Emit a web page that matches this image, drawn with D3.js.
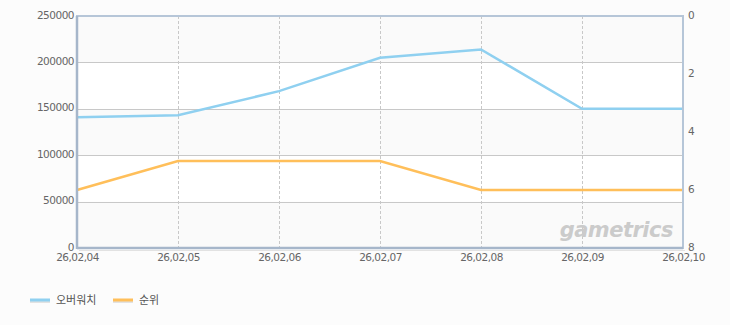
<!DOCTYPE html>
<html>
<head>
<meta charset="utf-8">
<script src="https://cdn.jsdelivr.net/npm/d3@7"></script>
<style>
    body { margin: 0; background: #fcfcfc; }
    svg { display: block; font-family: "DejaVu Sans", "Noto Sans CJK KR", sans-serif; }
    .tick text { fill: #666; font-size: 10.5px; }
</style>
</head>
<body>
<svg id="chart" width="730" height="325"></svg>
<script>
// 데이터
let dates = ['26,02,04', '26,02,05', '26,02,06', '26,02,07', '26,02,08', '26,02,09', '26,02,10'];
let viewers = [141000, 143000, 169000, 205000, 214000, 150000, 150000];
let ranks = [6, 5, 5, 5, 6, 6, 6];
let leftTicks = [0, 50000, 100000, 150000, 200000, 250000];
let rightTicks = [0, 2, 4, 6, 8];
let seriesNames = ['오버워치', '순위'];
let seriesColors = ['#8fd0f0', '#ffbf5a'];

let svg = d3.select('#chart');
let margin = {left: 77, top: 16, right: 47, bottom: 77},
    width = 730 - margin.left - margin.right,
    height = 325 - margin.top - margin.bottom;

let x = d3.scalePoint().domain(dates).range([0, width]);
let yL = d3.scaleLinear().domain([0, 250000]).range([height, 0]);
let yR = d3.scaleLinear().domain([0, 8]).range([0, height]);

let g = svg.append('g').attr('transform', 'translate(' + margin.left + ',' + margin.top + ')');

// 배경 줄무늬
for (let i = 0; i < leftTicks.length - 1; i++) {
    g.append('rect')
        .attr('x', 0)
        .attr('y', yL(leftTicks[i + 1]))
        .attr('width', width)
        .attr('height', yL(leftTicks[i]) - yL(leftTicks[i + 1]))
        .attr('fill', i % 2 === 0 ? '#fafafa' : '#ffffff');
}

// 가로 그리드
g.selectAll('.hgrid')
    .data(leftTicks.slice(1, -1))
    .enter()
    .append('line')
    .attr('x1', 0).attr('x2', width)
    .attr('y1', d => Math.round(yL(d)) + 0.5)
    .attr('y2', d => Math.round(yL(d)) + 0.5)
    .attr('stroke', '#c8c8c8');

// 세로 그리드 (점선)
g.selectAll('.vgrid')
    .data(dates.slice(1, -1))
    .enter()
    .append('line')
    .attr('x1', d => Math.round(x(d)) + 0.5)
    .attr('x2', d => Math.round(x(d)) + 0.5)
    .attr('y1', 0).attr('y2', height)
    .attr('stroke', '#c8c8c8')
    .attr('stroke-dasharray', '3,2');

// 워터마크
g.append('text')
    .attr('x', width - 10)
    .attr('y', height - 11)
    .attr('text-anchor', 'end')
    .style('font-family', '"DejaVu Sans", sans-serif')
    .style('font-size', '21px')
    .style('font-weight', 'bold')
    .style('font-style', 'italic')
    .style('letter-spacing', '-0.5px')
    .attr('fill', '#cbcbcb')
    .text('gametrics');

// 선
let lineL = d3.line().x((d, i) => x(dates[i])).y(d => yL(d));
let lineR = d3.line().x((d, i) => x(dates[i])).y(d => yR(d));

g.append('path')
    .datum(viewers)
    .attr('d', lineL)
    .attr('fill', 'none')
    .attr('stroke', seriesColors[0])
    .attr('stroke-width', 2.5);

g.append('path')
    .datum(ranks)
    .attr('d', lineR)
    .attr('fill', 'none')
    .attr('stroke', seriesColors[1])
    .attr('stroke-width', 2.5);

// 테두리
g.append('rect')
    .attr('x', 0).attr('y', 0)
    .attr('width', width).attr('height', height)
    .attr('fill', 'none')
    .attr('stroke', '#b6c6d8')
    .attr('stroke-width', 2);
g.append('line')
    .attr('x1', 0).attr('x2', 0).attr('y1', 0).attr('y2', height + 1)
    .attr('stroke', '#a6b6ca').attr('stroke-width', 2.5);
g.append('line')
    .attr('x1', 0).attr('x2', width).attr('y1', height).attr('y2', height)
    .attr('stroke', '#a6b6ca').attr('stroke-width', 2.5);
g.append('line')
    .attr('x1', 2).attr('x2', width + 2).attr('y1', height + 2.5).attr('y2', height + 2.5)
    .attr('stroke', '#e2e2e2').attr('stroke-width', 1);

// 축
let axisL = g.append('g')
    .call(d3.axisLeft(yL).tickValues(leftTicks).tickSize(0).tickPadding(3).tickFormat(d3.format('d')));
let axisR = g.append('g')
    .attr('transform', 'translate(' + width + ',0)')
    .call(d3.axisRight(yR).tickValues(rightTicks).tickSize(0).tickPadding(5));
let axisB = g.append('g')
    .attr('transform', 'translate(0,' + height + ')')
    .call(d3.axisBottom(x).tickSize(0).tickPadding(6));
[axisL, axisR, axisB].forEach(a => a.select('.domain').remove());
axisL.selectAll('text').attr('dy', '0.2em');
axisR.selectAll('text').attr('dy', '0.2em');
g.selectAll('.tick text').style('font-family', '"DejaVu Sans", sans-serif').style('letter-spacing', '-0.5px');

// 범례
let legend = svg.append('g').attr('transform', 'translate(30,300)');
let legendX = [0, 83];
seriesNames.forEach(function (name, i) {
    let lg = legend.append('g').attr('transform', 'translate(' + legendX[i] + ',0)');
    lg.append('line')
        .attr('x1', 0).attr('x2', 20).attr('y1', 1.5).attr('y2', 1.5)
        .attr('stroke', '#e2e2e2').attr('stroke-width', 3);
    lg.append('line')
        .attr('x1', 0).attr('x2', 20).attr('y1', 0).attr('y2', 0)
        .attr('stroke', seriesColors[i]).attr('stroke-width', 3);
    lg.append('text')
        .attr('x', 26).attr('y', 0).attr('dy', '0.35em')
        .style('font-family', '"Noto Sans CJK KR", sans-serif')
        .style('font-size', '11px')
        .attr('fill', '#555')
        .text(name);
});
</script>
</body>
</html>
